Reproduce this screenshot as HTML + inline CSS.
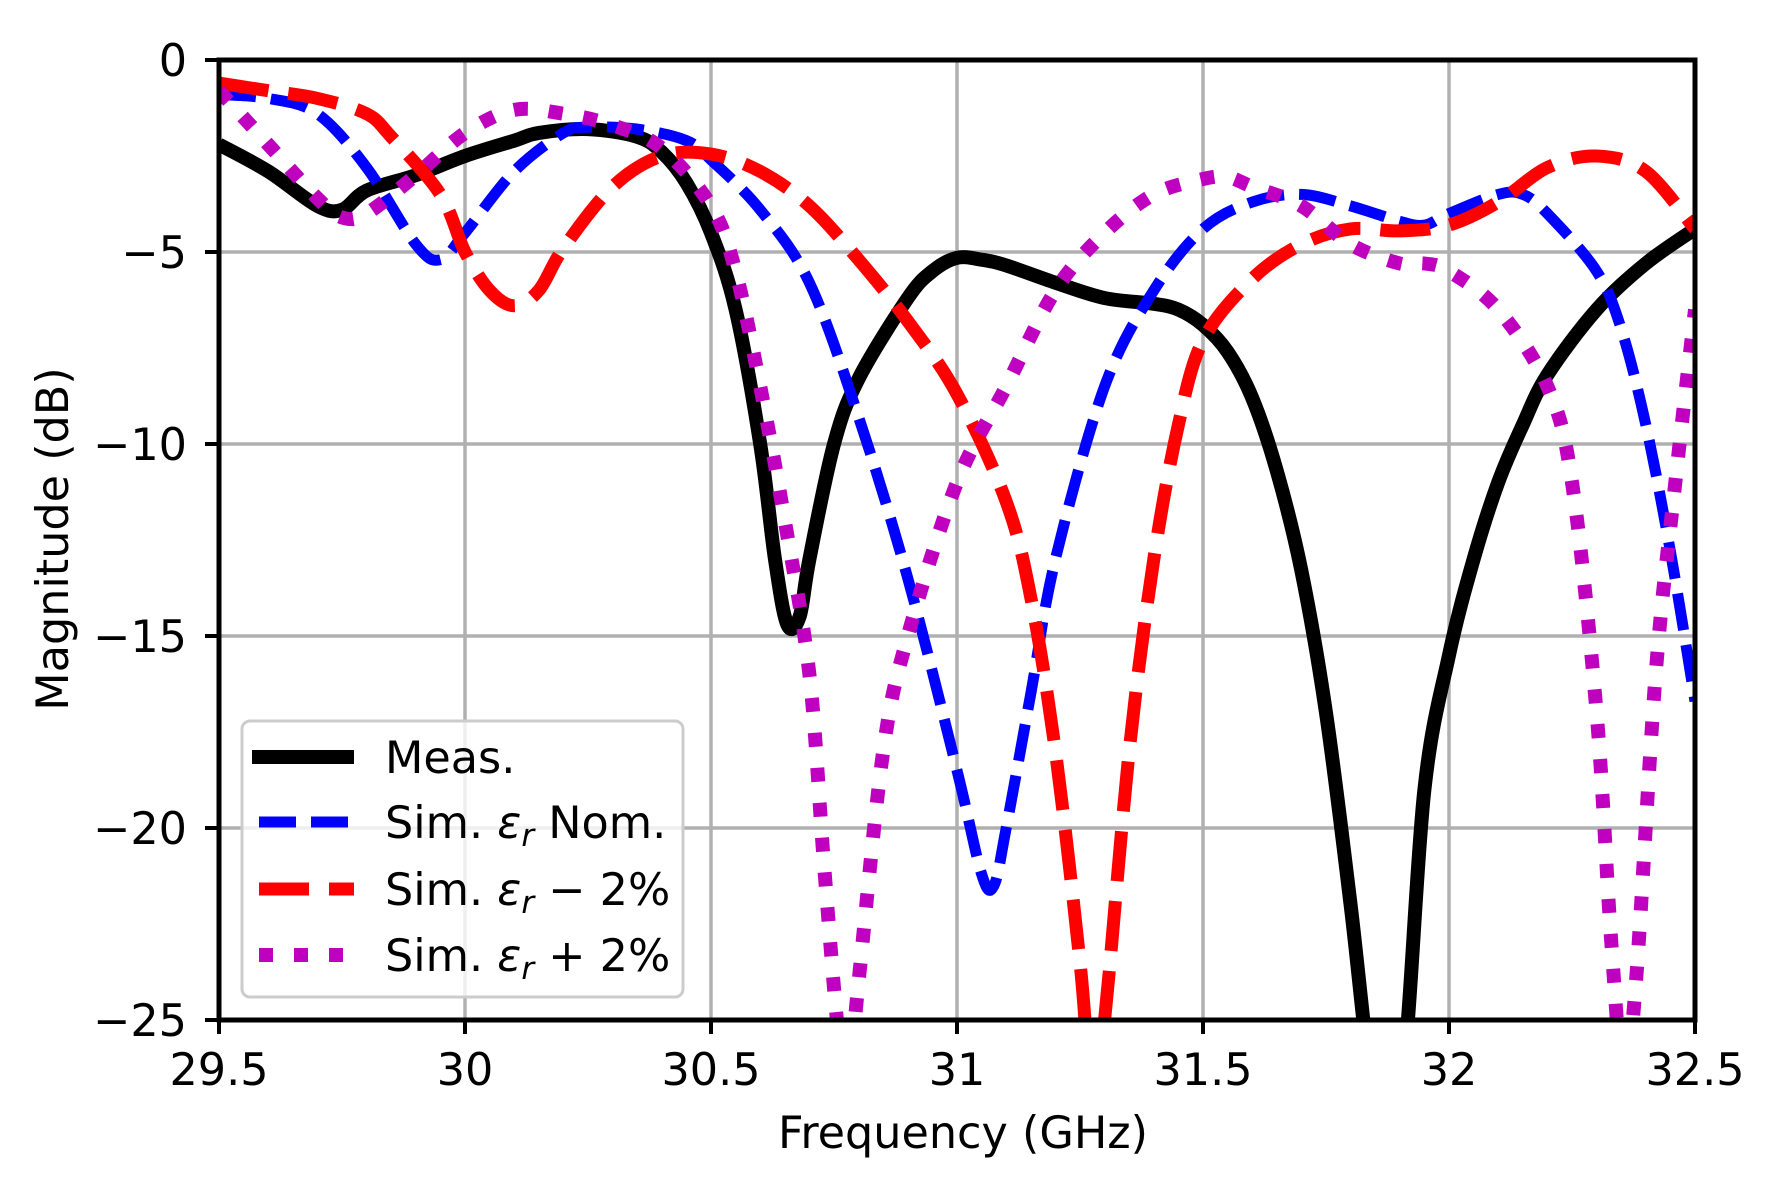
<!DOCTYPE html>
<html><head><meta charset="utf-8"><style>
html,body{margin:0;padding:0;background:#fff;}
svg{display:block;}
text{font-family:"DejaVu Sans","Liberation Sans",sans-serif;font-size:44.5px;fill:#000;}
</style></head><body>
<svg id="s" width="1781" height="1184" viewBox="0 0 1781 1184" xmlns="http://www.w3.org/2000/svg">
<defs><clipPath id="c"><rect x="219" y="60" width="1476" height="960"/></clipPath></defs>
<g id="grid" stroke="#b0b0b0" stroke-width="3.5"></g>
<g id="curves" clip-path="url(#c)" fill="none"></g>
<g id="ticks" stroke="#000" stroke-width="4"></g>
<g id="labels"></g>
<rect x="219" y="60" width="1476" height="960" fill="none" stroke="#000" stroke-width="5"/>
<g>
<rect x="242" y="721" width="441" height="276" rx="8" fill="#fff" fill-opacity="0.8" stroke="#cccccc" stroke-width="3"/>
<line x1="252" y1="757" x2="354" y2="757" stroke="#000" stroke-width="14"/>
<line x1="259" y1="822" x2="354" y2="822" stroke="#0000ff" stroke-width="11" stroke-dasharray="37 15"/>
<line x1="259" y1="889" x2="354" y2="889" stroke="#ff0000" stroke-width="13" stroke-dasharray="50 20"/>
<line x1="259" y1="955" x2="354" y2="955" stroke="#bf00bf" stroke-width="14" stroke-dasharray="14 21"/>
<text x="385" y="773">Meas.</text>
<text x="385" y="838">Sim. <tspan font-style="italic">ε</tspan><tspan font-style="italic" font-size="31" dy="8">r</tspan><tspan dy="-8"> Nom.</tspan></text>
<text x="385" y="905">Sim. <tspan font-style="italic">ε</tspan><tspan font-style="italic" font-size="31" dy="8">r</tspan><tspan dy="-8"> − 2%</tspan></text>
<text x="385" y="971">Sim. <tspan font-style="italic">ε</tspan><tspan font-style="italic" font-size="31" dy="8">r</tspan><tspan dy="-8"> + 2%</tspan></text>
</g>
<text x="963" y="1148" text-anchor="middle">Frequency (GHz)</text>
<text transform="translate(68,539) rotate(-90)" text-anchor="middle">Magnitude (dB)</text>
</svg>
<script>
const X0=219,X1=1695,Y0=60,Y1=1020;
const px=f=>X0+(f-29.5)/3*(X1-X0), py=d=>Y0+(-d)/25*(Y1-Y0);
const NS="http://www.w3.org/2000/svg";
function el(p,t,a,txt){const e=document.createElementNS(NS,t);for(const k in a)e.setAttribute(k,a[k]);if(txt!==undefined)e.textContent=txt;document.getElementById(p).appendChild(e);return e;}
const xt=[29.5,30,30.5,31,31.5,32,32.5], yt=[0,-5,-10,-15,-20,-25];
xt.forEach(f=>{const x=px(f);el('grid','line',{x1:x,y1:Y0,x2:x,y2:Y1});el('ticks','line',{x1:x,y1:Y1,x2:x,y2:Y1+14});el('labels','text',{x:x,y:1085,'text-anchor':'middle'},String(f));});
yt.forEach(d=>{const y=py(d);el('grid','line',{x1:X0,y1:y,x2:X1,y2:y});el('ticks','line',{x1:X0-14,y1:y,x2:X0,y2:y});el('labels','text',{x:187,y:y+16,'text-anchor':'end'},d===0?'0':'−'+(-d));});
function path(pts){const P=pts.map(p=>[px(p[0]),py(p[1])]);let d='M'+P[0][0]+','+P[0][1];
for(let i=0;i<P.length-1;i++){const p0=P[i-1]||P[i],p1=P[i],p2=P[i+1],p3=P[i+2]||p2;
d+=' C'+(p1[0]+(p2[0]-p0[0])/6)+','+(p1[1]+(p2[1]-p0[1])/6)+' '+(p2[0]-(p3[0]-p1[0])/6)+','+(p2[1]-(p3[1]-p1[1])/6)+' '+p2[0]+','+p2[1];}return d;}
const meas=[[29.5,-2.2],[29.6,-2.9],[29.7,-3.8],[29.75,-3.9],[29.8,-3.4],[29.9,-3.0],[30,-2.5],[30.1,-2.1],[30.15,-1.9],[30.25,-1.8],[30.35,-2.0],[30.4,-2.4],[30.45,-3.2],[30.5,-4.5],[30.55,-6.5],[30.6,-10],[30.63,-13],[30.655,-14.7],[30.68,-14.5],[30.7,-13],[30.75,-10],[30.8,-8.3],[30.9,-6.2],[30.95,-5.5],[31,-5.15],[31.05,-5.2],[31.1,-5.35],[31.2,-5.8],[31.3,-6.2],[31.4,-6.35],[31.45,-6.5],[31.5,-6.9],[31.55,-7.6],[31.6,-8.8],[31.65,-10.7],[31.7,-13.3],[31.75,-17],[31.8,-22],[31.835,-26],[31.87,-29],[31.91,-26],[31.95,-19],[32,-15.5],[32.05,-13],[32.1,-11],[32.15,-9.5],[32.2,-8.2],[32.3,-6.5],[32.4,-5.3],[32.5,-4.4]];
const blue=[[29.5,-0.9],[29.6,-1.0],[29.7,-1.4],[29.8,-2.8],[29.9,-4.8],[29.95,-5.2],[30,-4.5],[30.1,-2.9],[30.2,-1.9],[30.25,-1.75],[30.35,-1.8],[30.45,-2.1],[30.5,-2.6],[30.6,-3.9],[30.7,-5.8],[30.8,-9.3],[30.9,-13.5],[31,-18.5],[31.05,-21.2],[31.075,-21.5],[31.1,-20],[31.15,-16.5],[31.2,-13],[31.3,-8.5],[31.4,-6],[31.5,-4.4],[31.6,-3.7],[31.7,-3.5],[31.8,-3.8],[31.9,-4.2],[31.95,-4.3],[32,-4.0],[32.1,-3.5],[32.15,-3.5],[32.2,-4.0],[32.3,-5.5],[32.35,-7],[32.4,-9.5],[32.45,-12.8],[32.5,-16.7]];
const red=[[29.5,-0.6],[29.6,-0.8],[29.7,-1.0],[29.8,-1.4],[29.85,-2.0],[29.95,-3.5],[30,-5.0],[30.05,-6.0],[30.1,-6.4],[30.15,-6.0],[30.2,-4.9],[30.3,-3.3],[30.4,-2.5],[30.5,-2.45],[30.6,-2.9],[30.7,-3.8],[30.8,-5.2],[30.9,-6.8],[31,-8.7],[31.1,-11.5],[31.15,-14],[31.2,-18],[31.25,-23.5],[31.275,-27],[31.3,-25],[31.35,-18],[31.4,-13],[31.45,-9.5],[31.5,-7.3],[31.6,-5.7],[31.7,-4.8],[31.8,-4.4],[31.9,-4.45],[32,-4.3],[32.1,-3.7],[32.2,-2.8],[32.3,-2.5],[32.4,-2.9],[32.5,-4.4]];
const mag=[[29.5,-0.8],[29.6,-2.2],[29.7,-3.6],[29.75,-4.1],[29.8,-4.0],[29.9,-3.0],[30,-1.9],[30.1,-1.3],[30.2,-1.4],[30.3,-1.7],[30.4,-2.3],[30.5,-3.8],[30.55,-5.5],[30.6,-8.5],[30.65,-12],[30.7,-16],[30.73,-21],[30.76,-25.5],[30.78,-26.5],[30.8,-24],[30.85,-18],[30.9,-15],[31,-11],[31.1,-8.5],[31.2,-6],[31.3,-4.5],[31.4,-3.5],[31.5,-3.1],[31.55,-3.05],[31.6,-3.3],[31.7,-3.8],[31.8,-4.8],[31.9,-5.3],[31.95,-5.3],[32,-5.5],[32.1,-6.5],[32.2,-8.5],[32.25,-11],[32.3,-17],[32.33,-23],[32.355,-26.5],[32.38,-24],[32.42,-16],[32.46,-11],[32.5,-6.5]];
el('curves','path',{d:path(meas),stroke:'#000','stroke-width':14,'stroke-linejoin':'round'});
el('curves','path',{d:path(blue),stroke:'#0000ff','stroke-width':11,'stroke-dasharray':'37 15'});
el('curves','path',{d:path(red),stroke:'#ff0000','stroke-width':13,'stroke-dasharray':'50 20'});
el('curves','path',{d:path(mag),stroke:'#bf00bf','stroke-width':14,'stroke-dasharray':'14 21'});
</script>
</body></html>
